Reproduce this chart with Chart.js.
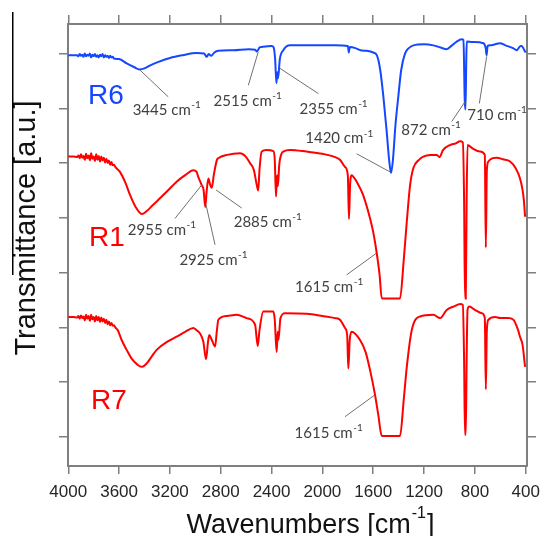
<!DOCTYPE html>
<html>
<head>
<meta charset="utf-8">
<script src="https://cdn.jsdelivr.net/npm/chart.js@4.4.1/dist/chart.umd.min.js"></script>
<style>
  html, body { margin: 0; padding: 0; background: #fff; }
  canvas { display: block; }
</style>
</head>
<body>
<canvas id="ftir" width="541" height="536"></canvas>
<script>
// FTIR spectra, wavenumber in cm-1, transmittance in stacked arbitrary units
const r6Wavenumbers = [4000,3960,3930,3920,3910,3900,3890,3880,3870,3860,3850,3840,3830,3820,3810,3800,3790,3780,3770,3760,3750,3740,3730,3720,3710,3700,3690,3680,3670,3660,3650,3640,
  3600,3540,3480,3440,3400,3350,3300,3200,3100,2990,2930,2911,2895,2875,2850,2819,2700,2580,2530,2515,2495,2478,2400,2385,2372,2362,2356,2349,2335,2308,
  2255,2100,1900,1800,1792,1785,1740,1700,1651,1600,1572,1545,1520,1495,1475,1460,1445,1425,1403,1380,1350,1320,1284,1200,1127,1070,1022,980,943,903,890,
  880,874,868,864,820,733,715,708,700,681,640,602,560,500,471,440,431,415,400];
const r6Values = [6.97,6.97,6.97,6.95,6.99,6.96,6.98,6.94,7.00,6.95,6.98,6.96,7.00,6.93,6.98,6.95,6.99,6.94,6.97,6.93,6.98,6.95,6.99,6.93,6.97,6.94,6.96,6.92,6.96,6.93,6.94,6.91,
  6.90,6.82,6.75,6.71,6.73,6.79,6.84,6.92,6.97,7.01,7.00,6.94,6.99,6.96,7.02,7.05,7.06,7.08,7.07,7.04,7.11,7.12,7.14,7.12,6.90,6.46,6.66,6.55,6.90,7.06,
  7.15,7.15,7.15,7.14,7.02,7.12,7.10,7.06,7.05,7.02,6.97,6.70,6.21,5.60,5.06,4.82,5.06,5.70,6.21,6.70,7.00,7.10,7.15,7.17,7.15,7.11,7.08,7.15,7.22,7.26,7.25,
  6.15,5.98,6.86,7.22,7.21,7.19,7.10,6.97,7.14,7.15,7.17,7.19,7.15,7.10,7.06,7.14,7.14,7.08,7.02];

const r1Wavenumbers = [4000,3960,3930,3920,3910,3900,3890,3880,3870,3860,3850,3840,3830,3820,3810,3800,3790,3780,3770,3760,3750,3740,3730,3720,3710,3700,3690,3680,3670,3660,3650,3640,3630,
  3593,3550,3514,3470,3422,3380,3340,3304,3220,3147,3080,3016,2990,2977,2950,2935,2922,2910,2897,2885,2870,2855,2830,2819,2750,2649,2600,2570,2540,2515,
  2505,2495,2478,2440,2386,2375,2365,2357,2350,2340,2320,2308,2255,2124,2000,1900,1862,1822,1800,1791,1782,1770,1750,1730,1680,1625,1600,1572,1550,1533,
  1389,1360,1336,1310,1284,1240,1206,1150,1100,1080,1050,996,950,917,895,885,878,872,865,858,820,760,722,714,706,694,660,628,580,523,480,445,425,415,405];
const r1Values = [5.12,5.12,5.11,5.14,5.09,5.16,5.10,5.13,5.06,5.17,5.09,5.14,5.05,5.18,5.08,5.12,5.04,5.16,5.06,5.13,5.03,5.12,5.05,5.10,5.01,5.08,5.00,5.05,4.97,5.02,4.96,4.97,4.93,
  4.84,4.64,4.42,4.20,4.07,4.13,4.22,4.30,4.49,4.66,4.78,4.87,4.84,4.75,4.60,4.51,4.20,4.51,4.72,4.62,4.55,4.78,5.06,5.09,5.15,5.18,5.11,5.00,4.88,4.58,
  4.50,4.88,5.21,5.24,5.22,5.06,4.39,4.78,4.58,4.96,5.18,5.21,5.24,5.21,5.17,5.11,5.06,4.93,4.78,3.98,4.60,4.78,4.73,4.66,4.42,3.99,3.74,3.35,2.96,2.53,
  2.53,3.23,3.93,4.60,4.91,5.06,5.12,5.15,5.15,5.11,5.24,5.33,5.36,5.40,5.38,4.33,2.53,2.53,4.33,5.33,5.27,5.21,5.15,3.46,4.87,5.03,5.09,5.10,5.07,5.03,4.91,4.72,4.51,4.33,4.02];

const r7Wavenumbers = [4000,3960,3930,3920,3910,3900,3890,3880,3870,3860,3850,3840,3830,3820,3810,3800,3790,3780,3770,3760,3750,3740,3730,3720,3710,3700,3690,3680,3670,3660,3650,3640,3630,
  3610,3580,3540,3501,3460,3422,3380,3340,3304,3220,3147,3080,3016,2990,2963,2937,2916,2900,2890,2870,2845,2830,2819,2750,2675,2596,2530,2509,2495,2465,
  2386,2375,2360,2352,2346,2330,2294,2124,2000,1900,1862,1822,1805,1796,1785,1770,1704,1660,1625,1586,1560,1533,1389,1360,1336,1297,1232,1127,1074,1022,
  960,917,895,885,878,872,865,858,844,800,746,722,714,706,694,640,602,540,497,460,445,425,405];
const r7Values = [2.19,2.19,2.18,2.21,2.16,2.22,2.17,2.20,2.13,2.23,2.16,2.21,2.12,2.23,2.15,2.19,2.11,2.21,2.13,2.19,2.10,2.18,2.11,2.16,2.08,2.14,2.06,2.11,2.04,2.08,2.03,2.04,2.00,
  1.95,1.77,1.59,1.43,1.33,1.28,1.35,1.48,1.59,1.74,1.83,1.92,1.99,1.95,1.89,1.74,1.42,1.74,1.86,1.77,1.65,1.95,2.14,2.21,2.23,2.17,2.05,1.66,1.95,2.29,
  2.29,2.14,1.55,1.92,1.77,2.17,2.26,2.25,2.21,2.17,2.14,1.99,1.86,1.25,1.77,1.92,1.77,1.55,1.22,0.77,0.40,0.02,0.02,0.68,1.28,1.95,2.20,2.23,2.17,2.32,
  2.39,2.43,2.41,1.41,0.04,0.04,1.41,2.32,2.38,2.32,2.26,2.17,0.87,1.95,2.14,2.19,2.17,2.17,2.14,1.95,1.83,1.68,1.28];

const xTicks = [4000, 3600, 3200, 2800, 2400, 2000, 1600, 1200, 800, 400];
const yTicks = [0, 1, 2, 3, 4, 5, 6, 7];

// peak callouts: label centre, leader line start and end (wavenumber, transmittance)
const peakNotes = [
  { text: '3445', label: [3227, 5.97], from: [3213, 6.21], to: [3436, 6.70] },
  { text: '2515', label: [2590, 6.14], from: [2583, 6.42], to: [2505, 7.03] },
  { text: '2355', label: [1914, 5.99], from: [2032, 6.27], to: [2334, 6.73] },
  { text: '1420', label: [1869, 5.45], from: [1730, 5.17], to: [1468, 4.84] },
  { text: '872',  label: [1147, 5.60], from: [982, 5.76],  to: [878, 6.12] },
  { text: '710',  label: [628, 5.88],  from: [765, 6.09],  to: [707, 6.95] },
  { text: '2955', label: [3265, 3.78], from: [3160, 3.99], to: [2950, 4.60] },
  { text: '2925', label: [2859, 3.23], from: [2845, 3.51], to: [2916, 4.24] },
  { text: '2885', label: [2432, 3.93], from: [2635, 4.18], to: [2837, 4.51] },
  { text: '1615', label: [1949, 2.74], from: [1809, 2.96], to: [1578, 3.35] },
  { text: '1615', label: [1953, 0.07], from: [1822, 0.37], to: [1586, 0.77] }
];

const BLUE = '#1447ff';
const RED = '#ff0000';
const FRAME = '#7f7f7f';

const sampleNames = [
  { text: 'R6', at: [3703, 6.22], color: BLUE },
  { text: 'R1', at: [3695, 3.63], color: RED },
  { text: 'R7', at: [3680, 0.66], color: RED }
];

Chart.defaults.font.family = "'Liberation Sans', Arial, sans-serif";

const toPoints = (xs, ys) => xs.map((w, i) => ({ x: w, y: ys[i] }));

function textWithSup(ctx, main, sup, cx, cy, size, supSize, rise) {
  ctx.font = size + 'px Lato';
  const w1 = ctx.measureText(main).width;
  ctx.font = supSize + 'px Lato';
  const w2 = ctx.measureText(sup).width;
  const x0 = cx - (w1 + w2) / 2;
  ctx.textAlign = 'left';
  ctx.textBaseline = 'middle';
  ctx.font = size + 'px Lato';
  ctx.fillText(main, x0, cy);
  ctx.font = supSize + 'px Lato';
  ctx.fillText(sup, x0 + w1 + 0.5, cy - rise);
}

const labelsPlugin = {
  id: 'labels',
  afterDatasetsDraw(chart) {
    const { ctx, scales: { x, y } } = chart;
    ctx.save();
    ctx.strokeStyle = '#707070';
    ctx.lineWidth = 1;
    ctx.fillStyle = '#404040';
    peakNotes.forEach(n => {
      ctx.beginPath();
      ctx.moveTo(x.getPixelForValue(n.from[0]), y.getPixelForValue(n.from[1]));
      ctx.lineTo(x.getPixelForValue(n.to[0]), y.getPixelForValue(n.to[1]));
      ctx.stroke();
      textWithSup(ctx, n.text + ' cm', '-1', x.getPixelForValue(n.label[0]), y.getPixelForValue(n.label[1]), 15, 10, 5);
    });

    ctx.font = "28px 'Liberation Sans', Arial, sans-serif";
    ctx.textAlign = 'center';
    ctx.textBaseline = 'middle';
    sampleNames.forEach(s => {
      ctx.fillStyle = s.color;
      ctx.fillText(s.text, x.getPixelForValue(s.at[0]), y.getPixelForValue(s.at[1]));
    });
    ctx.restore();
  },
  afterDraw(chart) {
    const { ctx, chartArea } = chart;
    ctx.save();
    ctx.fillStyle = '#111';

    // y axis title
    ctx.translate(35, 228);
    ctx.rotate(-Math.PI / 2);
    ctx.font = "29px 'Liberation Sans', Arial, sans-serif";
    ctx.textAlign = 'center';
    ctx.textBaseline = 'alphabetic';
    ctx.fillText('Transmittance [a.u.]', 0, 0);
    ctx.setTransform(1, 0, 0, 1, 0, 0);

    // x axis title with superscript
    const big = "27px 'Liberation Sans', Arial, sans-serif";
    const small = "16px 'Liberation Sans', Arial, sans-serif";
    ctx.font = big;
    const a = 'Wavenumbers [cm', b = ']';
    const wa = ctx.measureText(a).width, wb = ctx.measureText(b).width;
    ctx.font = small;
    const ws = ctx.measureText('-1').width;
    const tx = (chartArea.left + chartArea.right) / 2 + 12 - (wa + ws + wb) / 2;
    const ty = 533;
    ctx.textAlign = 'left';
    ctx.font = big;
    ctx.fillText(a, tx, ty);
    ctx.font = small;
    ctx.fillText('-1', tx + wa + 1, ty - 15);
    ctx.font = big;
    ctx.fillText(b, tx + wa + ws + 2, ty);

    // left rule
    ctx.strokeStyle = '#000';
    ctx.lineWidth = 1.5;
    ctx.beginPath();
    ctx.moveTo(12.75, 12);
    ctx.lineTo(12.75, 275);
    ctx.stroke();
    ctx.restore();
  }
};

const setTicks = list => scale => { scale.ticks = list.map(v => ({ value: v })); };

const frameAxis = (position, ticks, size, extra) => Object.assign({
  position,
  type: 'linear',
  afterBuildTicks: setTicks(ticks),
  afterFit: s => {
    if (position === 'top' || position === 'bottom') s.height = size; else s.width = size;
    s.paddingLeft = 0;
    s.paddingRight = 0;
  },
  grid: { display: true, drawOnChartArea: false, drawTicks: true, tickLength: 9, color: FRAME, lineWidth: 1.5 },
  border: { display: true, color: FRAME, width: 2 },
  ticks: { display: false }
}, extra);

new Chart(document.getElementById('ftir').getContext('2d'), {
  type: 'line',
  data: {
    datasets: [
      { label: 'R6', data: toPoints(r6Wavenumbers, r6Values), borderColor: BLUE },
      { label: 'R1', data: toPoints(r1Wavenumbers, r1Values), borderColor: RED },
      { label: 'R7', data: toPoints(r7Wavenumbers, r7Values), borderColor: RED }
    ]
  },
  options: {
    responsive: false,
    animation: false,
    events: [],
    devicePixelRatio: 1,
    layout: { padding: 0 },
    elements: {
      line: { borderWidth: 2, tension: 0, cubicInterpolationMode: 'monotone' },
      point: { radius: 0 }
    },
    plugins: { legend: { display: false }, tooltip: { enabled: false } },
    scales: {
      x: frameAxis('bottom', xTicks, 70, {
        min: 390, max: 4002, reverse: true,
        grid: { display: true, drawOnChartArea: false, drawTicks: true, tickLength: 8, color: FRAME, lineWidth: 1.5 },
        ticks: { display: true, color: '#262626', font: { size: 17 }, padding: 8, maxRotation: 0, autoSkip: false, callback: v => String(v) }
      }),
      x2: frameAxis('top', xTicks, 24, { min: 390, max: 4002, reverse: true }),
      y: frameAxis('left', yTicks, 68, { min: -0.53, max: 7.54 }),
      y2: frameAxis('right', yTicks, 14, { min: -0.53, max: 7.54 })
    }
  },
  plugins: [labelsPlugin]
});
</script>
</body>
</html>
